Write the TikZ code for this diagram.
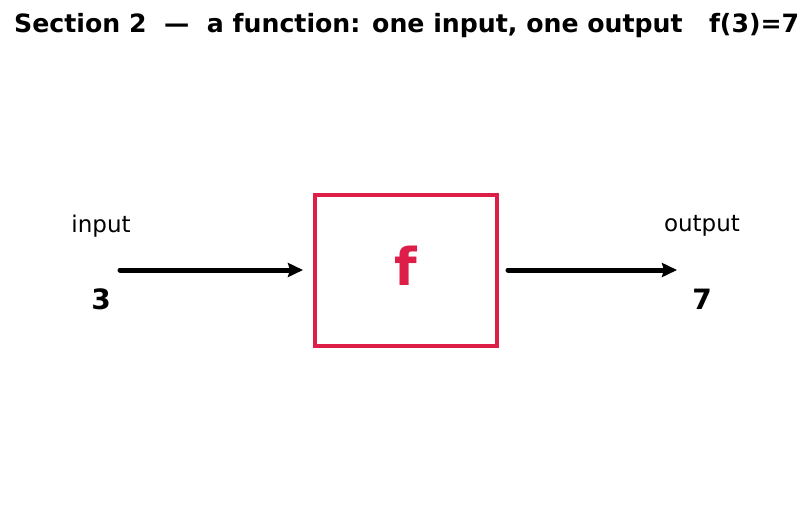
\documentclass[tikz,border=0pt]{standalone}
\usepackage{fontspec}
\setmainfont{DejaVu Sans}
\usetikzlibrary{arrows.meta}
\definecolor{fred}{RGB}{220,30,72}
\tikzset{
  conn/.style={line width=5pt, line cap=round, -{Stealth[length=15pt,width=14pt,inset=2pt]}},
  lbl/.style={font=\fontsize{23}{27}\selectfont, inner sep=0pt},
  val/.style={font=\fontsize{28}{32}\selectfont\bfseries, inner sep=0pt},
  fbox/.style={draw=fred, line width=4pt, minimum width=182pt, minimum height=151pt, inner sep=0pt}
}
\begin{document}
\begin{tikzpicture}[x=1pt,y=-1pt]
\useasboundingbox (0,0) rectangle (812,511);
\node[anchor=west, inner sep=0pt, font=\fontsize{25.2}{29}\selectfont\bfseries] (title) at (14,26) {Section 2\ \ —\ \ a function: one input, one output\ \ \ f(3)=7};
\node[fbox] (f) at (406,270.5) {};
\node[text=fred, font=\fontsize{52}{60}\selectfont\bfseries, inner sep=0pt] (flab) at (406,266) {f};
\node[lbl] (inl) at (101,226) {input};
\node[val] (inv) at (101,299) {3};
\node[lbl] (outl) at (702,226) {output};
\node[val] (outv) at (702,299) {7};
\coordinate (a1) at (120,270);
\coordinate (a2) at (303,270);
\coordinate (b1) at (508,270);
\coordinate (b2) at (677,270);
\draw[conn] (a1) -- (a2);
\draw[conn] (b1) -- (b2);
\end{tikzpicture}
\end{document}
